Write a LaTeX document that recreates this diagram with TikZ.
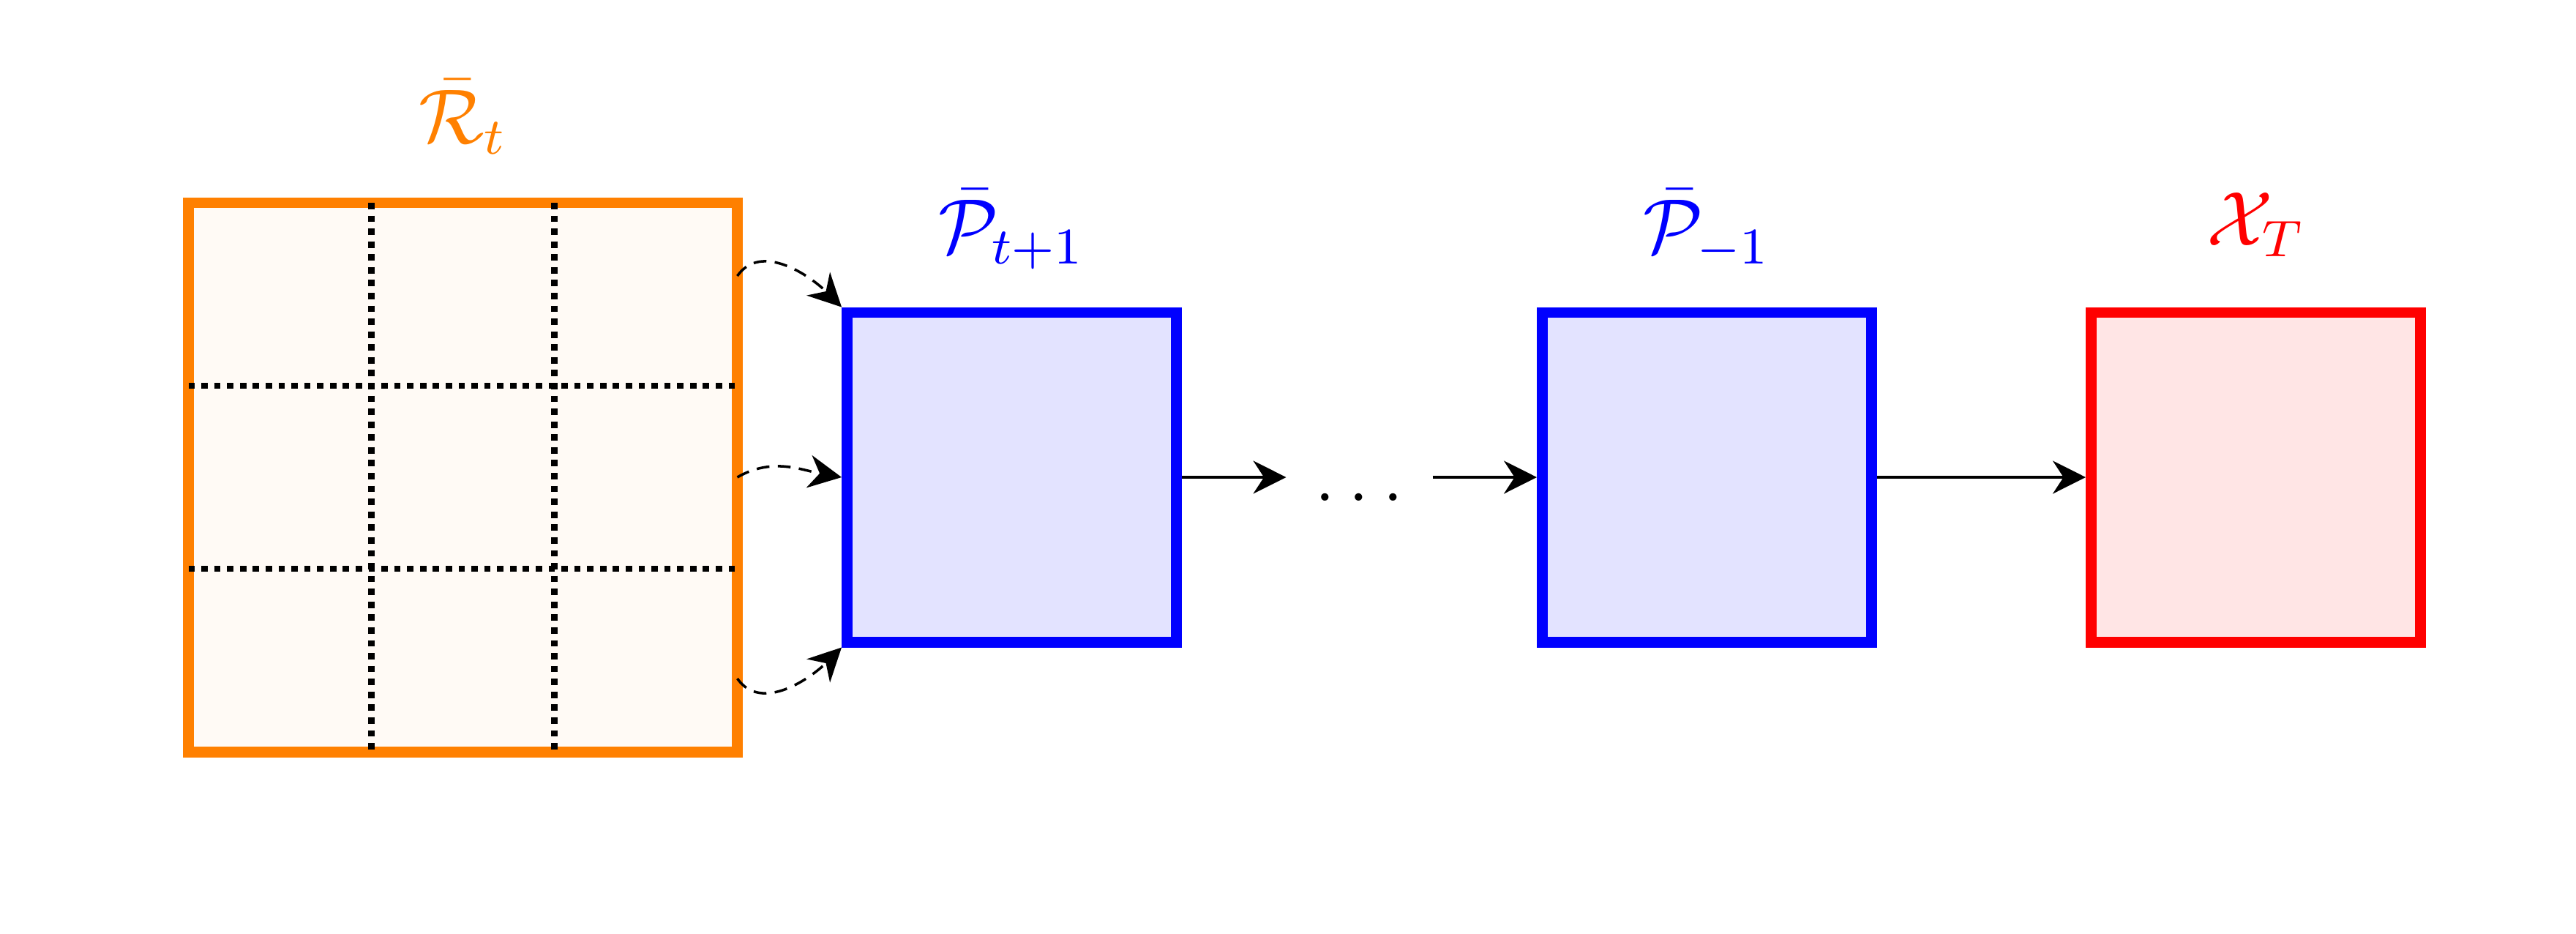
\documentclass[tikz,border=0pt]{standalone}
\usetikzlibrary{arrows.meta,calc}
\begin{document}
\begin{tikzpicture}[
  sq/.style={draw, line width=1.7pt, inner sep=0pt, minimum size=#1},
  gridline/.style={line width=1pt, densely dotted},
  conn/.style={-{Stealth[length=0.18cm,width=0.18cm]}, line width=0.4pt},
  dconn/.style={conn, dash pattern=on 2pt off 1.3pt},
  lab/.style={anchor=base, font=\large}
]
\useasboundingbox (0,0) rectangle (14.08,-5.1);
% boxes
\node[sq=3cm, draw=orange, fill=orange!4] (R) at (2.53,-2.608) {};
\node[sq=1.8cm, draw=blue, fill=blue!11] (P1) at (5.53,-2.608) {};
\node[sq=1.8cm, draw=blue, fill=blue!11] (P2) at (9.33,-2.608) {};
\node[sq=1.8cm, draw=red, fill=red!10] (X) at (12.33,-2.608) {};
% grid in R
\draw[gridline] ($(R.center)+(-0.5,1.5)$) -- ($(R.center)+(-0.5,-1.5)$);
\draw[gridline] ($(R.center)+(0.5,1.5)$) -- ($(R.center)+(0.5,-1.5)$);
\draw[gridline] ($(R.center)+(-1.5,0.5)$) -- ($(R.center)+(1.5,0.5)$);
\draw[gridline] ($(R.center)+(-1.5,-0.5)$) -- ($(R.center)+(1.5,-0.5)$);
% labels
\node[lab, text=orange] (Rl) at ($(R.center)+(0,1.828)$) {$\bar{\mathcal{R}}_t$};
\node[lab, text=blue] (P1l) at ($(P1.center)+(0,1.228)$) {$\bar{\mathcal{P}}_{t+1}$};
\node[lab, text=blue] (P2l) at ($(P2.center)+(0,1.228)$) {$\bar{\mathcal{P}}_{-1}$};
\node[lab, text=red] (Xl) at ($(X.center)+(0,1.268)$) {$\mathcal{X}_T$};
% dots
\node[inner sep=0pt, outer sep=0pt, minimum width=0.8cm, text height=7.3pt, text depth=0pt, font=\large] (dots) at (7.43,-2.608) {$\dots$};
% dashed connectors
\coordinate (s1) at ($(R.center)+(1.5,1.1)$);
\coordinate (s2) at ($(R.center)+(1.5,0)$);
\coordinate (s3) at ($(R.center)+(1.5,-1.1)$);
\draw[dconn] (s1) to[out=55,in=135] (P1.north west);
\draw[dconn] (s2) to[out=30,in=170] (P1.west);
\draw[dconn] (s3) to[out=-55,in=-135] (P1.south west);
% solid connectors
\draw[conn] (P1.east) -- (dots.west);
\draw[conn] (dots.east) -- (P2.west);
\draw[conn] (P2.east) -- (X.west);
\end{tikzpicture}
\end{document}
